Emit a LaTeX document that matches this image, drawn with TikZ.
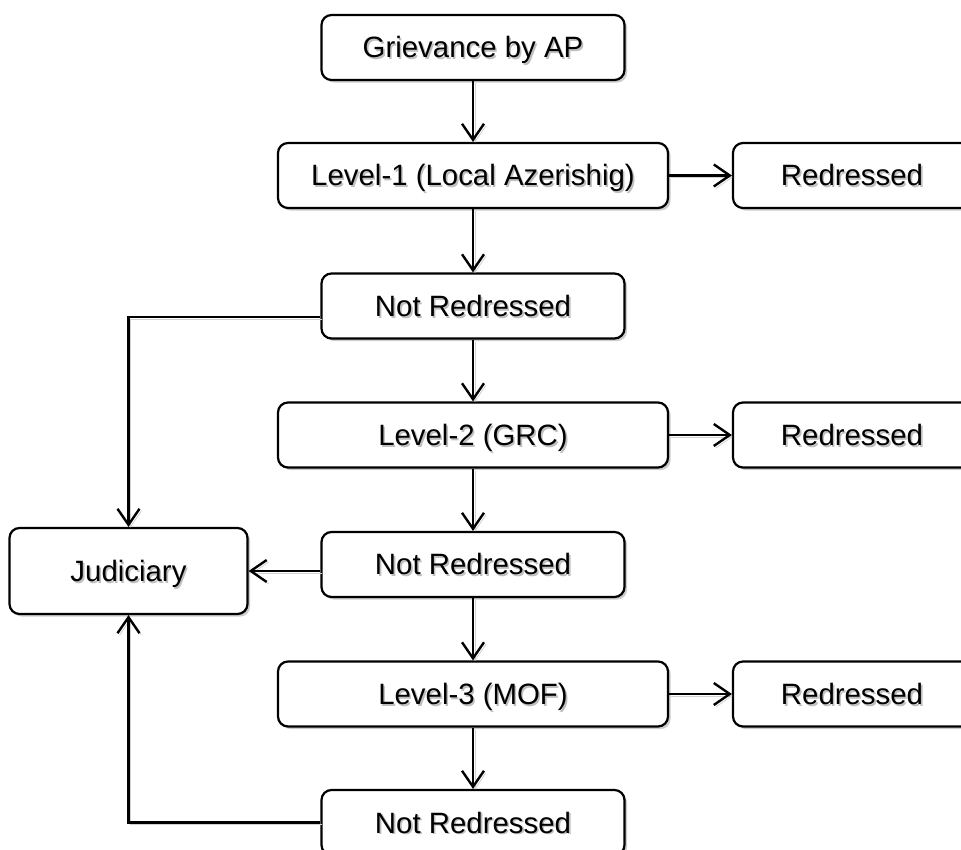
\documentclass[tikz,border=0pt]{standalone}
\usepackage{fontspec}
\setmainfont{Liberation Sans}
\usepackage{tikz}
\usetikzlibrary{arrows.meta,shadows}

\newcommand{\shtxt}[1]{\leavevmode\rlap{\kern0.8pt\raisebox{-0.8pt}{\textcolor{black!25}{#1}}}#1}

\begin{document}
\begin{tikzpicture}[
x=0.5pt, y=0.5pt,
box/.style={
		draw=black,
		line width=1.1pt,
		rounded corners=5pt,
		fill=white,
		inner sep=0pt,
		minimum height=32.5pt,
		text height=10.5pt,
		text depth=0pt,
		text centered,
		font=\fontsize{14.7}{17}\selectfont,
		drop shadow={shadow xshift=1.3pt, shadow yshift=-1.3pt, fill=black!20, opacity=1},
		},
levelbox/.style={box, minimum width=195pt},
statebox/.style={box, minimum width=151.5pt},
endbox/.style={box, minimum width=119pt},
flow/.style={
		line width=1.2pt,
		-{Straight Barb[length=8pt, width=11pt]},
		preaction={draw=black!18, transform canvas={xshift=1pt, yshift=-1pt}},
		},
]

\def \cx {473}  % centre line of the main column
\def \rx {852}  % column of the redressed boxes

\useasboundingbox (0,0) rectangle (961,849);
\clip (0,0) rectangle (961,849);

% main column
\node[statebox] (griev) at (\cx,801.5) {\shtxt{Grievance by AP}};
\node[levelbox] (lev1) at (\cx,673.5) {\shtxt{Level-1 (Local Azerishig)}};
\node[statebox] (nr1) at (\cx,543) {\shtxt{Not Redressed}};
\node[levelbox] (lev2) at (\cx,414) {\shtxt{Level-2 (GRC)}};
\node[statebox] (nr2) at (\cx,284.5) {\shtxt{Not Redressed}};
\node[levelbox] (lev3) at (\cx,155) {\shtxt{Level-3 (MOF)}};
\node[statebox] (nr3) at (\cx,26.5) {\shtxt{Not Redressed}};

% right column
\node[endbox] (red1) at (\rx,673.5) {\shtxt{Redressed}};
\node[endbox] (red2) at (\rx,414) {\shtxt{Redressed}};
\node[endbox] (red3) at (\rx,155) {\shtxt{Redressed}};

% left
\node[endbox, minimum height=43pt] (jud) at (128.5,278) {\shtxt{Judiciary}};

\draw[flow] (griev) -- (lev1);
\draw[flow] (lev1) -- (red1);
\draw[flow] (lev1) -- (nr1);
\draw[flow] (nr1) -- (lev2);
\draw[flow] (lev2) -- (red2);
\draw[flow] (lev2) -- (nr2);
\draw[flow] (nr2) -- (lev3);
\draw[flow] (lev3) -- (red3);
\draw[flow] (lev3) -- (nr3);

% to the judiciary
\draw[flow] ([yshift=-5.5pt]nr1.west) -| (jud.north);
\draw[flow] (nr2.west |- jud.east) -- (jud.east);
\draw[flow] (nr3.west) -| (jud.south);

\end{tikzpicture}
\end{document}
